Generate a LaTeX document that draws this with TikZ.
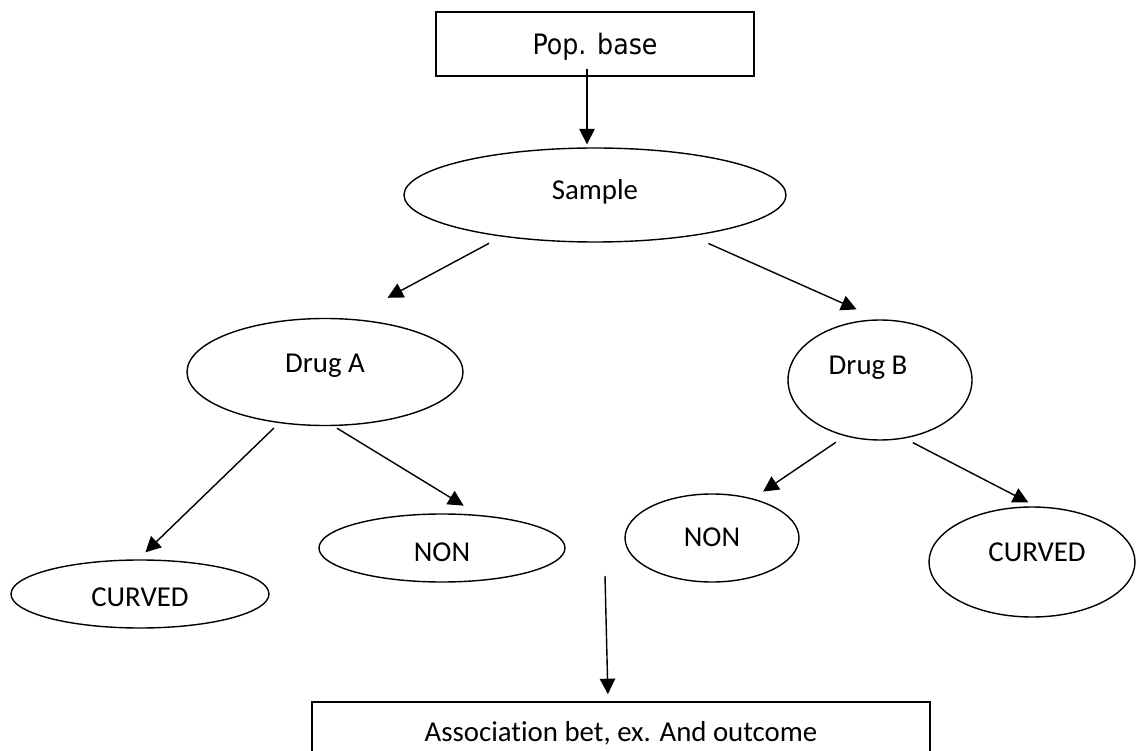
\documentclass[tikz,border=0pt]{standalone}
\usepackage{fontspec}
\newfontfamily\carlito[Ligatures=NoCommon]{Carlito}
\newfontfamily\dejavu[FakeStretch=0.9]{DejaVu Sans}
\usetikzlibrary{shapes.geometric,arrows.meta}

\begin{document}
\begin{tikzpicture}[
    oval/.style={draw, ellipse, line width=1pt, inner sep=0pt},
    frame/.style={draw, rectangle, line width=1.2pt, inner sep=0pt},
    txt/.style={font=\carlito\fontsize{20.5}{24}\selectfont,
        text height=13.2pt, text depth=0pt, inner sep=0pt},
    arr/.style={line width=1pt, -{Triangle[length=11pt, width=11pt]}}
]
    \useasboundingbox (0,0) rectangle (28.4,-18.775);
    \clip (0,0) rectangle (28.4,-18.775);

    %% Boxes
    \node[frame, minimum width=7.95cm, minimum height=1.6cm,
        font=\dejavu\fontsize{20}{24}\selectfont, text height=14.6pt, text depth=0pt]
        (popbase) at (14.875,-1.1) {Pop. base};
    \node[frame, txt, minimum width=15.45cm, minimum height=1.5cm]
        (assoc) at (15.525,-18.3) {Association bet, ex. And outcome};

    %% Ellipses
    \node[oval, minimum width=9.55cm, minimum height=2.35cm,
        label={[txt, yshift=3.6pt]center:Sample}]
        (sample) at (14.875,-4.875) {};
    \node[oval, minimum width=6.9cm, minimum height=2.675cm,
        label={[txt, yshift=6.4pt]center:Drug A}]
        (drugA) at (8.125,-9.3) {};
    \node[oval, minimum width=4.6cm, minimum height=3cm,
        label={[txt, xshift=-8.5pt, yshift=10.7pt]center:Drug B}]
        (drugB) at (22,-9.5) {};
    \node[oval, minimum width=6.45cm, minimum height=1.7cm,
        label={[txt, yshift=-2.1pt]center:CURVED}]
        (curvedA) at (3.5,-14.85) {};
    \node[oval, minimum width=6.15cm, minimum height=1.7cm,
        label={[txt, yshift=-2.8pt]center:NON}]
        (nonA) at (11.05,-13.7) {};
    \node[oval, minimum width=4.35cm, minimum height=2.2cm,
        label={[txt, yshift=0.7pt]center:NON}]
        (nonB) at (17.8,-13.45) {};
    \node[oval, minimum width=5.15cm, minimum height=2.75cm,
        label={[txt, xshift=3.6pt, yshift=7.1pt]center:CURVED}]
        (curvedB) at (25.8,-14.05) {};

    %% Arrows
    \draw[arr, shorten <=-5.7pt, shorten >=2.1pt]
        ([xshift=-5.7pt]popbase.south) -- ([xshift=-5.7pt]sample.north);
    \draw[arr, shorten <=10pt, shorten >=31.3pt] (sample.204.5) -- (drugA.66.1);
    \draw[arr, shorten <=12.8pt, shorten >=17.4pt] (sample.337) -- (drugB.91.6);
    \draw[arr, shorten <=5pt, shorten >=7.1pt] (drugA.228.1) -- (curvedA.93.7);
    \draw[arr, shorten <=2.8pt, shorten >=12.6pt] (drugA.279.2) -- (nonA.42.9);
    \draw[arr, shorten <=7.8pt, shorten >=8.7pt] (drugB.238.8) -- (nonB.44.6);
    \draw[arr, shorten <=6.4pt, shorten >=6pt] (drugB.293.5) -- (curvedB.86.4);
    \coordinate (gap) at (15.125,-14.4);
    \draw[arr, shorten >=5pt] (gap) -- ([xshift=-9.2pt]assoc.north);
\end{tikzpicture}
\end{document}
